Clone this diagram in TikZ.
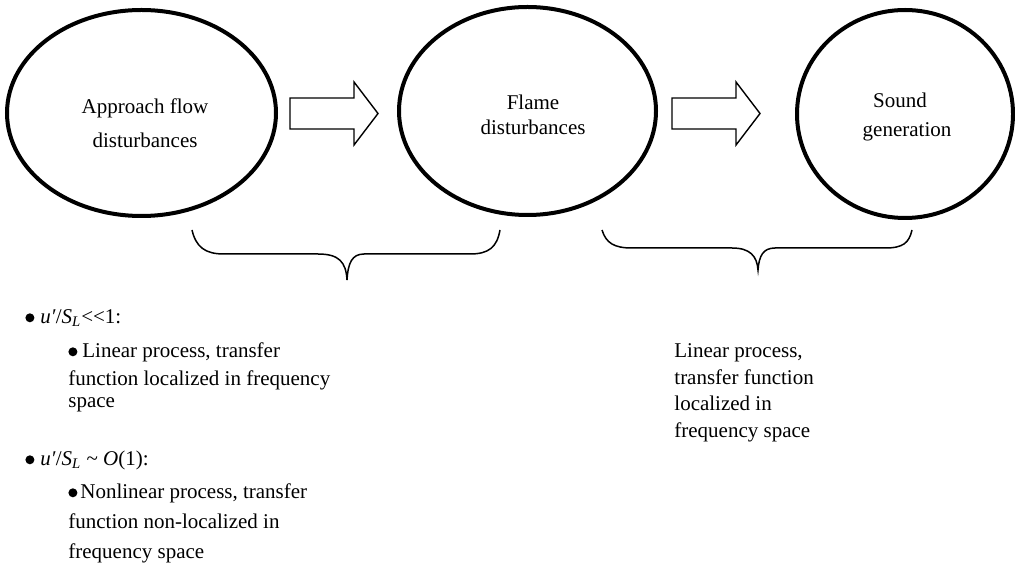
\documentclass[tikz,border=0pt]{standalone}
\usepackage{fontspec}
\setmainfont{Liberation Serif}
\usetikzlibrary{positioning,shapes.geometric}

% inline round bullet
\newcommand{\blt}{\tikz[baseline=0pt,x=1pt,y=1pt]\fill (0,2.6) circle (2.25);}

\begin{document}
\begin{tikzpicture}[x=0.5pt,y=-0.5pt,
    font=\fontsize{10.5}{16}\selectfont,
    proc/.style={draw,ellipse,line width=2pt,inner sep=0pt},
    proctext/.style={anchor=base,inner sep=0pt,align=center},
    blockarrow/.style={draw,line width=0.7pt,line join=miter},
    curly/.style={draw,line width=0.75pt},
    note/.style={anchor=base west,inner sep=0pt,align=left}]
  \useasboundingbox (0,0) rectangle (1015,566);

  % the three stages
  \node[proc,minimum width=134.5pt,minimum height=103pt] (approach) at (141.5,113) {};
  \node[proc,minimum width=128.5pt,minimum height=104pt] (flame) at (527.5,111) {};
  \node[proc,minimum width=108pt,minimum height=104pt] (sound) at (905,114) {};
  \node[proctext,font=\fontsize{10.5}{17}\selectfont] (approachtxt) at (145,148)
    {Approach flow\\disturbances};
  \node[proctext,font=\fontsize{10.5}{12.5}\selectfont] (flametxt) at (533,135)
    {Flame\\disturbances};
  \node[proctext,font=\fontsize{10.5}{14.5}\selectfont] (soundtxt) at (907,137)
    {Sound\kern7pt\\generation};

  % block arrows between the stages
  \foreach \ax in {290,672}
    \draw[blockarrow] (\ax,98) -- ++(64,0) -- ++(0,-16) -- ++(24,31.5)
      -- ++(-24,31.5) -- ++(0,-16) -- ++(-64,0) -- cycle;

  % braces
  \draw[curly] (192,230) .. controls (196,247) and (205,254) .. (224,254)
    -- (318,254) .. controls (339,254) and (346,262) .. (347,280)
    .. controls (348,263) and (352,254) .. (364,254)
    -- (470,254) .. controls (489,254) and (497,247) .. (500,230);
  \draw[curly] (602,230) .. controls (606,243) and (614,248) .. (632,248)
    -- (732,248) .. controls (750,248) and (757,256) .. (758,270)
    .. controls (759,256) and (763,248) .. (775,248)
    -- (885,248) .. controls (903,248) and (909,243) .. (912,230);

  % notes on the first transfer
  \node[note] (lowrt) at (25,323)
    {\blt\hspace{3pt}\textit{u′}/\textit{S}\textsubscript{\textit{L}}<{}<1:};
  \node[note,font=\fontsize{10.5}{14}\selectfont] (lowlin) at (68,407)
    {\blt\hspace{2.5pt}Linear process, transfer\\function localized in frequency\\[-3pt]space};
  \node[note] (highrt) at (25,465)
    {\blt\hspace{3pt}\textit{u′}/\textit{S}\textsubscript{\textit{L}} \textasciitilde{} \textit{O}(1):};
  \node[note,font=\fontsize{10.5}{15}\selectfont] (highnl) at (68,558)
    {\blt\hspace{1.5pt}Nonlinear process, transfer\\function non-localized in\\frequency space};

  % note on the second transfer
  \node[note,font=\fontsize{10.5}{13.25}\selectfont] (soundlin) at (674,437)
    {Linear process,\\transfer function\\localized in\\frequency space};
\end{tikzpicture}
\end{document}
